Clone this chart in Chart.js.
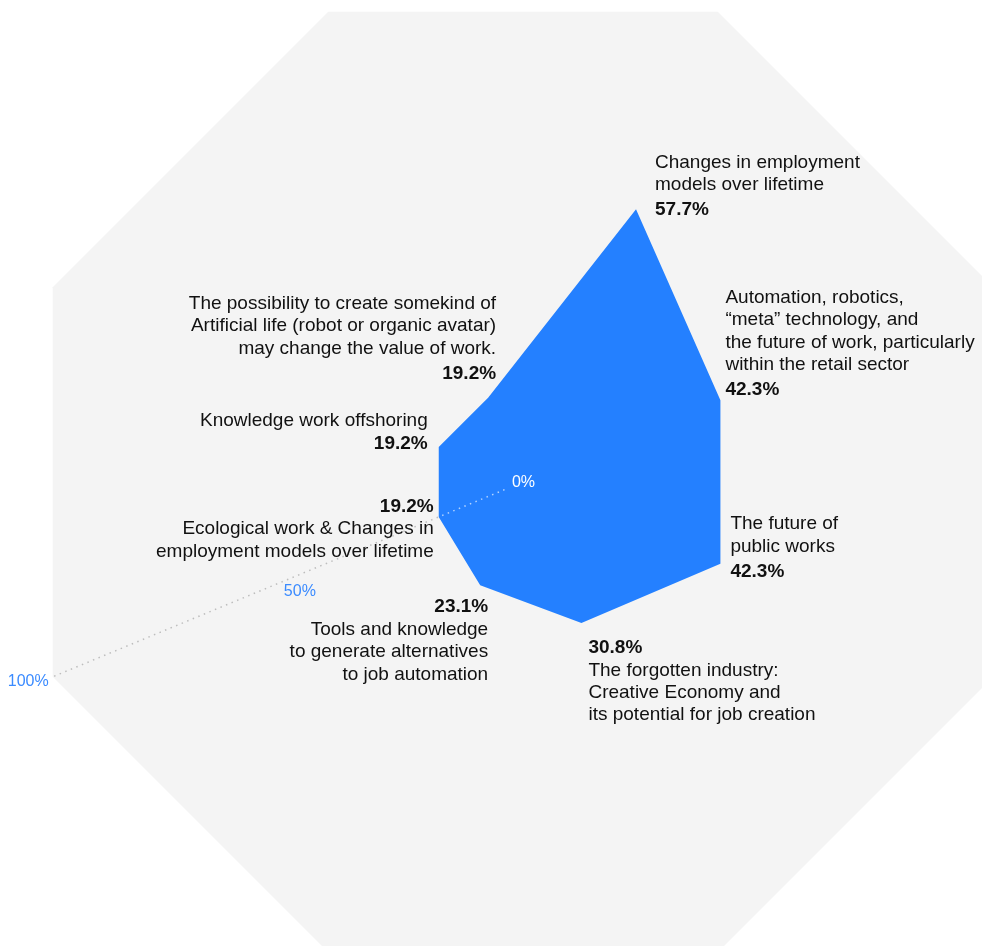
<!DOCTYPE html>
<html>
<head>
<meta charset="utf-8">
<script src="https://cdn.jsdelivr.net/npm/chart.js@4.4.1/dist/chart.umd.min.js"></script>
<style>
  html, body { margin: 0; padding: 0; background: #fff; overflow: hidden; width: 982px; height: 946px; }
  #wrap { position: absolute; left: 0; top: -27px; width: 1032px; height: 1018px; }
</style>
</head>
<body>
<div id="wrap"><canvas id="radar"></canvas></div>
<script>
// topics, clockwise starting upper right
const topics = [
  ['Changes in employment', 'models over lifetime'],
  ['Automation, robotics,', '“meta” technology, and', 'the future of work, particularly', 'within the retail sector'],
  ['The future of', 'public works'],
  ['The forgotten industry:', 'Creative Economy and', 'its potential for job creation'],
  ['Tools and knowledge', 'to generate alternatives', 'to job automation'],
  ['Ecological work & Changes in', 'employment models over lifetime'],
  ['Knowledge work offshoring'],
  ['The possibility to create somekind of', 'Artificial life (robot or organic avatar)', 'may change the value of work.']
];
const shares = [57.7, 42.3, 42.3, 30.8, 23.1, 19.2, 19.2, 19.2];
const tickValues = [0, 50, 100];
const tickLabels = ['0%', '50%', '100%'];

const FONT = '"Liberation Sans", Arial, Helvetica, sans-serif';
const TICK_AXIS = 5; // dotted scale line runs along this spoke

// label block placement relative to its point (dy = baseline of the % line)
const labelPlace = [
  { align: 'left',  dx: 19,  dy: 6,   pctFirst: false },
  { align: 'left',  dx: 5,   dy: -5,  pctFirst: false },
  { align: 'left',  dx: 10,  dy: 13,  pctFirst: false },
  { align: 'left',  dx: 7,   dy: 30,  pctFirst: true },
  { align: 'right', dx: 8,   dy: 27,  pctFirst: true },
  { align: 'right', dx: -5,  dy: -5,  pctFirst: true },
  { align: 'right', dx: -11, dy: 2,   pctFirst: false, gap: 23 },
  { align: 'right', dx: 8,   dy: -19, pctFirst: false }
];
const tickPlace = [
  { align: 'center', dx: 0.5, dy: 1,  color: '#ffffff' },
  { align: 'left',   dx: -4,  dy: 12, color: '#3b8bff' },
  { align: 'right',  dx: -4,  dy: 5,  color: '#3b8bff' }
];

function dotted(ctx, a, b, color) {
  ctx.save();
  ctx.beginPath();
  ctx.setLineDash([1.5, 4.5]);
  ctx.lineWidth = 1.5;
  ctx.strokeStyle = color;
  ctx.moveTo(a.x, a.y);
  ctx.lineTo(b.x, b.y);
  ctx.stroke();
  ctx.restore();
}

function drawBlock(ctx, x, y, lines, pct, place) {
  const lh = 22.4;
  ctx.textAlign = place.align;
  ctx.textBaseline = 'alphabetic';
  ctx.fillStyle = '#111';
  ctx.font = 'bold 19px ' + FONT;
  ctx.fillText(pct, x, y);
  ctx.font = '19px ' + FONT;
  if (place.pctFirst) {
    lines.forEach((l, i) => ctx.fillText(l, x, y + 22.5 + i * lh));
  } else {
    const gap = place.gap || 25;
    lines.forEach((l, i) => ctx.fillText(l, x, y - gap - (lines.length - 1 - i) * lh));
  }
}

const radarDecor = {
  id: 'radarDecor',
  beforeDatasetsDraw(chart) {
    const r = chart.scales.r;
    const ctx = chart.ctx;
    dotted(ctx, r.getPointPosition(TICK_AXIS, 20), r.getPointPositionForValue(TICK_AXIS, r.max), '#bdbdbd');
  },
  afterDatasetsDraw(chart) {
    const r = chart.scales.r;
    const ctx = chart.ctx;
    // part of the scale line that lies on the blue area
    dotted(ctx, r.getPointPosition(TICK_AXIS, 20), r.getPointPositionForValue(TICK_AXIS, shares[TICK_AXIS]), 'rgba(255,255,255,0.65)');

    ctx.save();
    ctx.font = '16px ' + FONT;
    ctx.textBaseline = 'middle';
    tickValues.forEach((v, i) => {
      const p = r.getPointPositionForValue(TICK_AXIS, Math.min(Math.max(v, r.min), r.max));
      ctx.textAlign = tickPlace[i].align;
      ctx.fillStyle = tickPlace[i].color;
      ctx.fillText(tickLabels[i], p.x + tickPlace[i].dx, p.y + tickPlace[i].dy);
    });

    shares.forEach((v, i) => {
      const p = r.getPointPositionForValue(i, v);
      const pl = labelPlace[i];
      drawBlock(ctx, p.x + pl.dx, p.y + pl.dy, topics[i], v.toFixed(1) + '%', pl);
    });
    ctx.restore();
  }
};

new Chart(document.getElementById('radar'), {
  type: 'radar',
  data: {
    labels: topics,
    datasets: [{
      data: shares,
      backgroundColor: '#2480ff',
      borderColor: 'rgba(0,0,0,0)',
      borderWidth: 0,
      pointRadius: 0,
      pointHoverRadius: 0,
      tension: 0,
      fill: 'origin'
    }]
  },
  options: {
    responsive: true,
    maintainAspectRatio: false,
    animation: false,
    events: [],
    layout: { padding: { left: 14, right: 0, top: 0, bottom: 0 } },
    plugins: {
      legend: { display: false },
      tooltip: { enabled: false }
    },
    scales: {
      r: {
        min: 2,
        max: 98,
        startAngle: 22.5,
        backgroundColor: '#f4f4f4',
        grid: { display: false },
        angleLines: { display: false },
        ticks: { display: false },
        pointLabels: { display: false }
      }
    }
  },
  plugins: [radarDecor]
});
</script>
</body>
</html>
